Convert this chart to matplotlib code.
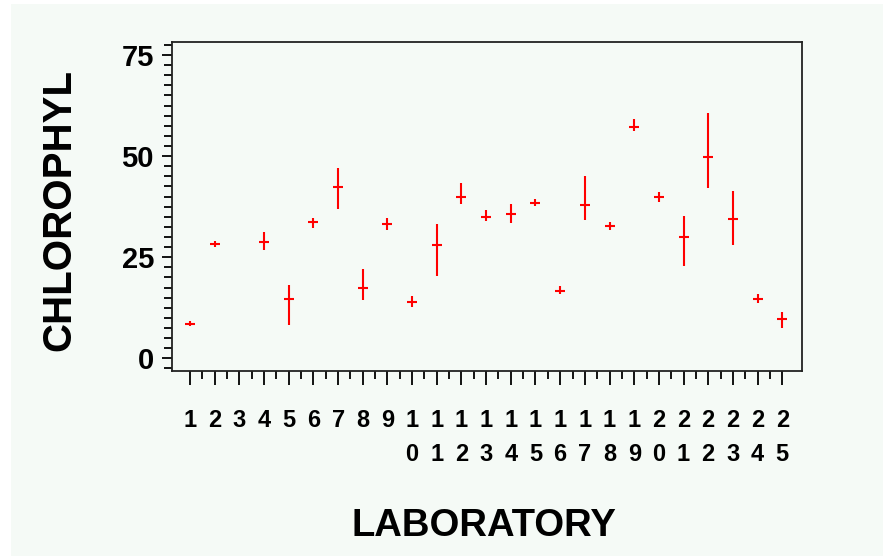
import numpy as np
import matplotlib
matplotlib.use("Agg")
import matplotlib.pyplot as plt
from matplotlib.patches import Rectangle
from matplotlib.ticker import FixedLocator, MultipleLocator

# ---- data ----
labs = [1, 2, 4, 5, 6, 7, 8, 9, 10, 11, 12, 13, 14, 15, 16, 17, 18, 19, 20, 21, 22, 23, 24, 25]
means = [8.5, 28.2, 28.7, 14.6, 33.6, 42.4, 17.4, 33.2, 13.8, 27.9, 40.0, 35.0, 35.6,
         38.4, 16.7, 37.9, 32.7, 57.3, 40.0, 29.9, 49.7, 34.4, 14.7, 9.7]
highs = [9.1, 28.9, 31.3, 18.0, 34.8, 47.0, 22.0, 34.8, 15.5, 33.3, 43.3, 36.7, 38.1,
         39.4, 17.9, 45.0, 33.7, 59.2, 41.1, 35.3, 60.7, 41.3, 16.0, 11.5]
lows = [7.9, 27.4, 26.8, 8.3, 32.1, 36.9, 14.4, 31.6, 12.7, 20.4, 38.2, 34.0, 33.4,
        37.7, 15.9, 34.2, 31.7, 56.3, 38.6, 22.8, 42.2, 28.0, 13.6, 7.6]
tick_positions = list(range(1, 26))
tick_labels = ["\n".join(str(n)) for n in tick_positions]
y_ticks = [0, 25, 50, 75]

W, H = 883, 556
fig = plt.figure(figsize=(W / 100, H / 100), dpi=100, facecolor="white")
bg = "#F5FAF6"
fig.patches.append(Rectangle((11 / W, 0), 1 - 11 / W, 1 - 4 / H, transform=fig.transFigure,
                             facecolor=bg, edgecolor="none", zorder=-10))

ax = fig.add_axes([172 / W, 1 - 371 / H, (802 - 172) / W, (371 - 42) / H])
ax.set_facecolor(bg)

red = "#FF0000"
ax.vlines(labs, lows, highs, color=red, lw=1.5)
ax.plot(labs, means, ls="none", marker="_", markersize=7.3, markeredgewidth=1.5, color=red)

ax.set_xlim(0.27, 25.8)
ax.set_ylim(-3.14, 78.2)

font = "Liberation Sans"
ax.set_xticks(tick_positions)
ax.set_xticklabels(tick_labels, fontsize=17, fontweight="bold", family=font, linespacing=1.6)
ax.xaxis.set_minor_locator(FixedLocator([p + 0.5 for p in tick_positions[:-1]]))
ax.set_yticks(y_ticks)
ax.set_yticklabels([str(v) for v in y_ticks], fontsize=21, fontweight="bold", family=font)
ax.yaxis.set_minor_locator(MultipleLocator(2.5))

ax.tick_params(axis="x", which="major", direction="out", length=10, width=1.3, pad=17.5, colors="black")
ax.tick_params(axis="x", which="minor", direction="out", length=5.8, width=1.3)
ax.tick_params(axis="y", which="major", direction="out", length=7.5, width=1.3, pad=5.5)
ax.tick_params(axis="y", which="minor", direction="out", length=5.5, width=1.3)
for s in ax.spines.values():
    s.set_linewidth(1.3)
    s.set_color("#222222")

fig.text(59 / W, 1 - 210 / H, "CHLOROPHYL", rotation=90, ha="center", va="center",
         fontsize=29, fontweight="bold", family=font)
fig.text(484 / W, 1 - 536 / H, "LABORATORY", ha="center", va="baseline",
         fontsize=27.5, fontweight="bold", family=font)

fig.savefig("out.png", dpi=100, facecolor="white")
